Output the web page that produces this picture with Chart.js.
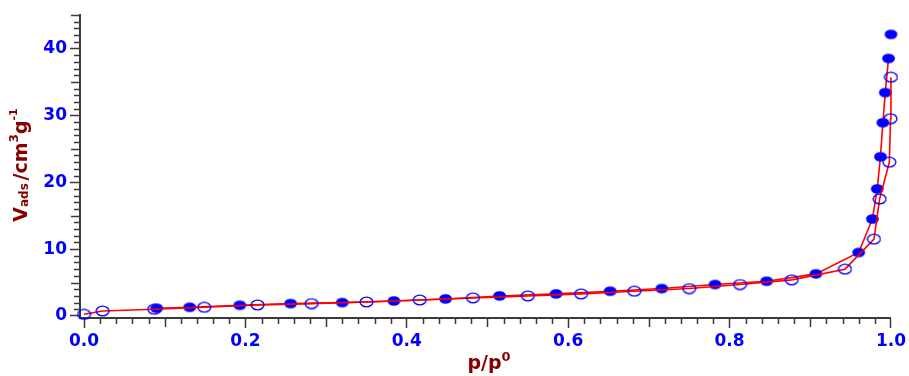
<!DOCTYPE html>
<html>
<head>
<meta charset="utf-8">
<script src="https://cdn.jsdelivr.net/npm/chart.js@4.4.1/dist/chart.umd.min.js"></script>
<style>
  html, body { margin: 0; padding: 0; background: #fff; }
  canvas { display: block; }
</style>
</head>
<body>
<canvas id="isotherm" width="909" height="376"></canvas>
<script>
// relative pressure / adsorbed volume, adsorption branch (filled)
const adsP = [0.090, 0.131, 0.193, 0.256, 0.320, 0.384, 0.448, 0.515, 0.585, 0.652, 0.716,
              0.782, 0.846, 0.907, 0.960, 0.977, 0.983, 0.987, 0.990, 0.993, 0.997, 1.000];
const adsV = [1.15, 1.3, 1.6, 1.85, 2.0, 2.25, 2.55, 3.0, 3.3, 3.7, 4.1,
              4.7, 5.2, 6.3, 9.5, 14.5, 19.0, 23.8, 28.9, 33.4, 38.5, 42.1];

// desorption branch (open)
const desP = [0.000, 0.023, 0.087, 0.149, 0.215, 0.282, 0.350, 0.416, 0.482, 0.550, 0.616,
              0.682, 0.750, 0.813, 0.877, 0.943, 0.979, 0.986, 0.998, 0.9995, 1.000];
const desV = [0.25, 0.75, 1.0, 1.3, 1.65, 1.85, 2.1, 2.4, 2.7, 3.0, 3.3,
              3.7, 4.1, 4.7, 5.4, 7.0, 11.5, 17.5, 23.0, 29.5, 35.7];

const xTicks = [0, 0.2, 0.4, 0.6, 0.8, 1.0];
const yTicks = [0, 10, 20, 30, 40];

const BLUE = '#0000ff';
const RED = '#ff0000';
const TITLE = '#860000';
const AXIS = '#3a3a3a';
const FONT = '"DejaVu Sans", sans-serif';

// ellipse markers, wider than tall
function ellipse(filled) {
    const c = document.createElement('canvas');
    c.width = 15;
    c.height = 12;
    const g = c.getContext('2d');
    g.beginPath();
    g.ellipse(7.5, 6, 6.4, 4.8, 0, 0, Math.PI * 2);
    if (filled) {
        g.fillStyle = BLUE;
        g.fill();
    } else {
        g.lineWidth = 1.3;
        g.strokeStyle = BLUE;
        g.stroke();
    }
    return c;
}

const toPoints = (xs, ys) => xs.map((x, i) => ({ x: x, y: ys[i] }));

// short minor ticks outside the axes
const minorTicks = {
    id: 'minorTicks',
    afterDraw: (chart) => {
        const ctx = chart.ctx;
        const xs = chart.scales.x;
        const ys = chart.scales.y;
        const area = chart.chartArea;
        ctx.save();
        ctx.strokeStyle = AXIS;
        ctx.lineWidth = 1.5;
        for (let i = 0; i <= 50; i++) {
            if (i % 10 === 0) continue;
            const px = Math.round(xs.getPixelForValue(i * 0.02)) + 0.5;
            const len = i % 5 === 0 ? 9 : 6;
            ctx.beginPath();
            ctx.moveTo(px, area.bottom);
            ctx.lineTo(px, area.bottom + len);
            ctx.stroke();
        }
        for (let v = 1; v <= 45; v++) {
            if (v % 10 === 0) continue;
            const py = Math.round(ys.getPixelForValue(v)) + 0.5;
            const len = v % 5 === 0 ? 9 : 6;
            ctx.beginPath();
            ctx.moveTo(area.left, py);
            ctx.lineTo(area.left - len, py);
            ctx.stroke();
        }
        ctx.restore();
    }
};

// draws a run of text pieces with sub/superscripts
function drawRun(ctx, parts, cx, cy) {
    let total = 0;
    parts.forEach((p) => {
        ctx.font = 'bold ' + p.size + 'px ' + FONT;
        p.w = ctx.measureText(p.text).width;
        total += p.w;
    });
    let x = cx - total / 2;
    parts.forEach((p) => {
        ctx.font = 'bold ' + p.size + 'px ' + FONT;
        ctx.fillText(p.text, x, cy + p.dy);
        x += p.w;
    });
}

const axisTitles = {
    id: 'axisTitles',
    afterDraw: (chart) => {
        const ctx = chart.ctx;
        ctx.save();
        ctx.fillStyle = TITLE;
        ctx.textBaseline = 'alphabetic';
        drawRun(ctx, [
            { text: 'p/p', size: 19, dy: 0 },
            { text: '0', size: 13, dy: -8 }
        ], 489, 369);

        ctx.translate(27, 165);
        ctx.rotate(-Math.PI / 2);
        drawRun(ctx, [
            { text: 'V', size: 19, dy: 0 },
            { text: 'ads', size: 12, dy: 1 },
            { text: ' ', size: 8, dy: 0 },
            { text: '/', size: 19, dy: 0 },
            { text: 'cm', size: 19, dy: 0 },
            { text: '3', size: 12, dy: -9 },
            { text: 'g', size: 19, dy: 0 },
            { text: '-1', size: 11, dy: -10 }
        ], 0, 0);
        ctx.restore();
    }
};

new Chart(document.getElementById('isotherm'), {
    type: 'scatter',
    data: {
        datasets: [
            {
                label: 'desorption',
                data: toPoints(desP, desV),
                showLine: true,
                clip: false,
                borderColor: RED,
                borderWidth: 1.6,
                pointStyle: ellipse(false),
                order: 0
            },
            {
                label: 'adsorption',
                data: toPoints(adsP, adsV),
                showLine: true,
                clip: false,
                borderColor: RED,
                borderWidth: 1.6,
                pointStyle: ellipse(true),
                // last point sits above the line
                segment: {
                    borderColor: (c) => c.p1DataIndex === adsV.length - 1 ? 'transparent' : RED
                },
                order: 1
            }
        ]
    },
    options: {
        responsive: false,
        animation: false,
        devicePixelRatio: 1,
        layout: { padding: { top: 15, right: 17, left: 0, bottom: 0 } },
        plugins: {
            legend: { display: false },
            tooltip: { enabled: false }
        },
        scales: {
            x: {
                type: 'linear',
                min: -0.005,
                max: 1.0,
                afterFit: (s) => { s.height = 58; },
                afterBuildTicks: (s) => { s.ticks = xTicks.map((v) => ({ value: v })); },
                border: { display: true, color: AXIS, width: 2 },
                grid: { drawOnChartArea: false, drawTicks: true, tickLength: 10, tickColor: AXIS, tickWidth: 1.5 },
                ticks: {
                    autoSkip: false,
                    maxRotation: 0,
                    padding: 3,
                    color: BLUE,
                    font: { family: FONT, size: 17, weight: 'bold' },
                    callback: (v) => Number(v).toFixed(1)
                }
            },
            y: {
                type: 'linear',
                min: -0.3,
                max: 45,
                afterFit: (s) => { s.width = 80; },
                afterBuildTicks: (s) => { s.ticks = yTicks.map((v) => ({ value: v })); },
                border: { display: true, color: AXIS, width: 2 },
                grid: { drawOnChartArea: false, drawTicks: true, tickLength: 10, tickColor: AXIS, tickWidth: 1.5 },
                ticks: {
                    autoSkip: false,
                    padding: 3,
                    color: BLUE,
                    font: { family: FONT, size: 17, weight: 'bold' },
                    callback: (v) => String(v)
                }
            }
        }
    },
    plugins: [minorTicks, axisTitles]
});
</script>
</body>
</html>
